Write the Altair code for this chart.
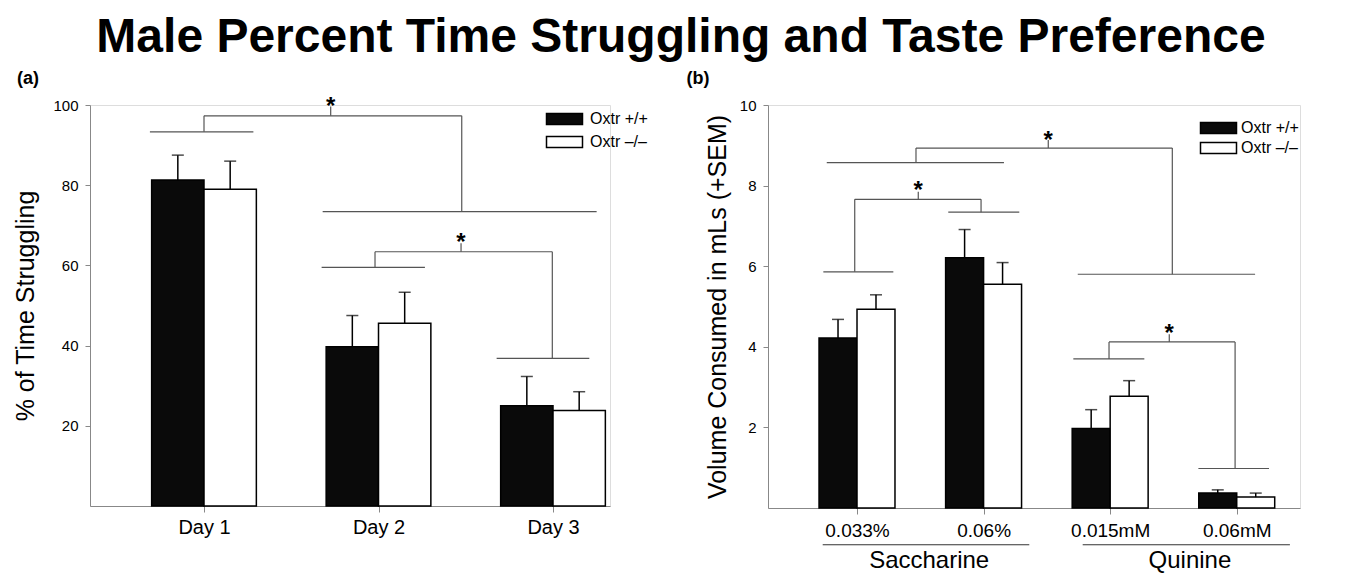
import altair as alt
import pandas as pd

FONT = "Liberation Sans, Arial, Helvetica, sans-serif"
GENO = ["Oxtr +/+", "Oxtr \u2013/\u2013"]
BW = 0.3  # half-pair bar width in category units

# ---------------- Panel (a) data ----------------
days = ["Day 1", "Day 2", "Day 3"]
wt_struggle = [81.3, 39.7, 25.0]
wt_struggle_sem = [6.2, 7.8, 7.3]
ko_struggle = [79.0, 45.6, 23.8]
ko_struggle_sem = [7.0, 7.7, 4.7]

# brackets (a): x, x2, y, y2
a_seg_x = [0.69, 1.00, 1.00, 2.477, 1.726, 1.68, 1.674, 1.98, 1.98, 2.996, 2.473, 2.677]
a_seg_x2 = [1.283, 2.477, 1.00, 2.477, 1.726, 3.25, 2.266, 2.996, 1.98, 2.996, 2.473, 3.208]
a_seg_y = [93.3, 97.3, 97.3, 97.3, 97.3, 73.4, 59.5, 63.4, 63.4, 63.4, 63.4, 36.8]
a_seg_y2 = [93.3, 97.3, 93.3, 73.4, 99.6, 73.4, 59.5, 63.4, 59.5, 36.8, 65.5, 36.8]
a_star_x = [1.726, 2.473]
a_star_y = [97.8, 63.8]

# ---------------- Panel (b) data ----------------
doses = ["0.033%", "0.06%", "0.015mM", "0.06mM"]
wt_volume = [4.22, 6.21, 1.97, 0.37]
wt_volume_sem = [0.46, 0.70, 0.47, 0.08]
ko_volume = [4.93, 5.55, 2.77, 0.27]
ko_volume_sem = [0.36, 0.54, 0.39, 0.10]

b_seg_x = [1.466, 2.511, 0.761, 1.466, 3.491, 2.744, 0.982, 1.484, 0.982, 0.734, 1.98, 1.721,
           2.991, 3.467, 2.991, 2.709, 3.987, 3.697]
b_seg_x2 = [3.491, 2.511, 2.161, 1.466, 3.491, 4.145, 1.98, 1.484, 0.982, 1.287, 1.98, 2.282,
            3.987, 3.467, 2.991, 3.270, 3.987, 4.255]
b_seg_y = [8.93, 8.93, 8.57, 8.93, 8.93, 5.80, 7.66, 7.66, 7.66, 5.86, 7.66, 7.34,
           4.12, 4.12, 4.12, 3.70, 4.12, 0.98]
b_seg_y2 = [8.93, 9.13, 8.57, 8.57, 5.80, 5.80, 7.66, 7.85, 5.86, 5.86, 7.34, 7.34,
            4.12, 4.31, 3.70, 3.70, 0.98, 0.98]
b_star_x = [2.511, 1.484, 3.467]
b_star_y = [8.93, 7.70, 4.14]

groups = ["Saccharine", "Quinine"]
group_x = [1.57, 3.63]
group_line_x = [0.729, 2.783]
group_line_x2 = [2.361, 4.42]


def bars_df(cats, wt, wt_e, ko, ko_e):
    rows = []
    for i, c in enumerate(cats):
        p = i + 1
        rows.append(dict(cat=c, geno=GENO[0], x=p - BW, x2=p, xc=p - BW / 2,
                         mean=wt[i], top=wt[i] + wt_e[i]))
        rows.append(dict(cat=c, geno=GENO[1], x=p, x2=p + BW, xc=p + BW / 2,
                         mean=ko[i], top=ko[i] + ko_e[i]))
    return pd.DataFrame(rows)


def panel(df, cats, xdom, ydom, yvals, ytitle, segs, stars, leg_xy, leg_row,
          leg_off, xlabel_size, xlabel_pad, ytitle_pad, tag, tag_xy, cap):
    xsc = alt.Scale(domain=xdom, nice=False, zero=False)
    ysc = alt.Scale(domain=ydom, nice=False, zero=False)
    lab_expr = "[''," + ",".join("'%s'" % c for c in cats) + "][datum.value]"
    xaxis = alt.Axis(values=list(range(1, len(cats) + 1)), labelExpr=lab_expr, title=None,
                     grid=False, tickSize=6, labelFontSize=xlabel_size, labelPadding=xlabel_pad,
                     labelColor="black", labelFont=FONT)
    yaxis = alt.Axis(values=yvals, title=ytitle, grid=False, tickSize=5, labelFontSize=15,
                     labelPadding=7, labelColor="black", titleFontSize=25, titleFontWeight="normal",
                     titleColor="black", titlePadding=ytitle_pad, labelFont=FONT, titleFont=FONT)
    bars = alt.Chart(df).mark_bar(stroke="black", strokeWidth=1.5).encode(
        x=alt.X("x:Q", scale=xsc, axis=xaxis, title=None),
        x2="x2:Q",
        y=alt.Y("mean:Q", scale=ysc, axis=yaxis, title=ytitle),
        y2=alt.datum(0),
        color=alt.Color("geno:N", scale=alt.Scale(domain=GENO, range=["#0a0a0a", "#ffffff"]),
                        legend=alt.Legend(title=None, orient="none", legendX=leg_xy[0],
                                          legendY=leg_xy[1], symbolType="M-1,-1H5.545V1H-1Z",
                                          symbolSize=121, symbolStrokeColor="black",
                                          symbolStrokeWidth=1.5, symbolOpacity=1,
                                          labelFontSize=16, labelFont=FONT, labelColor="black",
                                          labelOffset=leg_off, rowPadding=leg_row)),
    )
    err = alt.Chart(df).mark_rule(color="black", strokeWidth=1.5).encode(
        x=alt.X("xc:Q", title=None), y=alt.Y("mean:Q", title=ytitle), y2="top:Q")
    caps = alt.Chart(df).mark_tick(color="black", thickness=1.5, size=cap, orient="horizontal").encode(
        x=alt.X("xc:Q", title=None), y=alt.Y("top:Q", title=ytitle))
    seg_df = pd.DataFrame(dict(sx=segs[0], sx2=segs[1], sy=segs[2], sy2=segs[3]))
    br = alt.Chart(seg_df).mark_rule(color="#555555", strokeWidth=1.2).encode(
        x=alt.X("sx:Q", title=None), x2="sx2:Q", y=alt.Y("sy:Q", title=ytitle), y2="sy2:Q")
    st_df = pd.DataFrame(dict(tx=stars[0], ty=stars[1], s=["*"] * len(stars[0])))
    st = alt.Chart(st_df).mark_text(fontSize=24, fontWeight="bold", font=FONT, baseline="alphabetic",
                                    align="center", color="black").encode(
        x=alt.X("tx:Q", title=None), y=alt.Y("ty:Q", title=ytitle), text="s:N")
    tag_df = pd.DataFrame(dict(t=[tag]))
    tg = alt.Chart(tag_df).mark_text(fontSize=18, fontWeight="bold", font=FONT, align="center",
                                     baseline="middle", color="black").encode(
        x=alt.value(tag_xy[0]), y=alt.value(tag_xy[1]), text="t:N")
    return [bars, err, caps, br, st, tg]


a_df = bars_df(days, wt_struggle, wt_struggle_sem, ko_struggle, ko_struggle_sem)
b_df = bars_df(doses, wt_volume, wt_volume_sem, ko_volume, ko_volume_sem)

A_TITLE = "% of Time Struggling"
B_TITLE = "Volume Consumed in mLs (+SEM)"

a_layers = panel(a_df, days, [0.3467, 3.3266], [0, 100], [20, 40, 60, 80, 100], A_TITLE,
                 (a_seg_x, a_seg_x2, a_seg_y, a_seg_y2), (a_star_x, a_star_y),
                 (454, 6), 5, 30, 20, 5, 14, "(a)", (-62, -26), 12)
panel_a = alt.layer(*a_layers).properties(width=520, height=401)

b_layers = panel(b_df, doses, [0.2968, 4.4998], [0, 10], [2, 4, 6, 8, 10], B_TITLE,
                 (b_seg_x, b_seg_x2, b_seg_y, b_seg_y2), (b_star_x, b_star_y),
                 (430, 15), 2, 27, 19, 7, 9, "(b)", (-70, -26), 12)
grp_df = pd.DataFrame(dict(g=groups, gx=group_x, lx=group_line_x, lx2=group_line_x2,
                           ly=[-0.912] * 2, gy=[-1.317] * 2))
g_lines = alt.Chart(grp_df).mark_rule(color="#333333", strokeWidth=1.2).encode(
    x=alt.X("lx:Q", title=None), x2="lx2:Q", y=alt.Y("ly:Q", title=B_TITLE))
g_text = alt.Chart(grp_df).mark_text(fontSize=24, font=FONT, align="center", baseline="middle",
                                     color="black").encode(
    x=alt.X("gx:Q", title=None), y=alt.Y("gy:Q", title=B_TITLE), text="g:N")
panel_b = alt.layer(*b_layers, g_lines, g_text).properties(width=532, height=403)

chart = alt.hconcat(panel_a, panel_b, spacing=158, bounds="flush").resolve_scale(
    color="independent").resolve_legend(color="independent").properties(
    title=alt.TitleParams("Male Percent Time Struggling and Taste Preference", fontSize=48,
                          fontWeight="bold", font=FONT, anchor="middle", color="black",
                          offset=8, dx=24),
    padding={"left": 5, "top": 5, "right": 5, "bottom": 5},
).configure_view(stroke=None).configure_axis(
    domainColor="#222222", tickColor="#222222", domainWidth=1.2, tickWidth=1.2, grid=False
).configure(background="white")

chart.save("out.html", embed_options={"renderer": "svg", "actions": False})
